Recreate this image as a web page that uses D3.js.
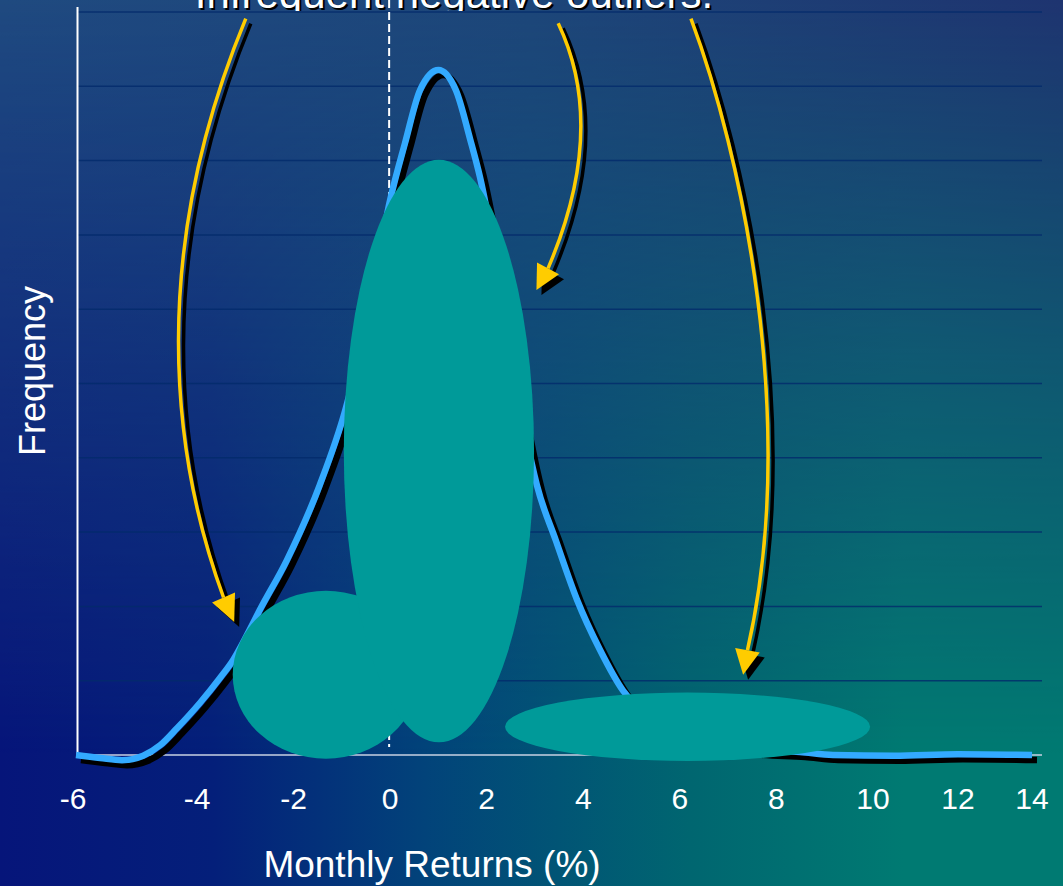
<!DOCTYPE html>
<html>
<head>
<meta charset="utf-8">
<script src="https://cdn.jsdelivr.net/npm/d3@7/dist/d3.min.js"></script>
<style>
  html, body { margin: 0; padding: 0; background: #0b2a7a; }
  svg { display: block; }
  text { font-family: "Liberation Sans", Arial, Helvetica, sans-serif; }
</style>
</head>
<body>
<svg id="chart" width="1063" height="886"></svg>
<script>
// Return distribution (monthly returns, %) against relative frequency
const xTickValues = [-6, -4, -2, 0, 2, 4, 6, 8, 10, 12, 14];
const returnPct = [-6, -5.6, -5.24, -4.89, -4.61, -4.33, -3.94, -3.52, -3.25, -2.96, -2.70, -2.14,
                   -1.46, -0.93, -0.46, 0.0, 0.31, 0.62, 1.0, 1.36, 1.66, 1.86, 2.23, 2.54, 2.81,
                   3.04, 3.43, 3.87, 4.35, 4.82, 5.38, 6.42, 7.45, 8.49, 9.17, 10.5, 12.0, 14];
const frequency = [0, -0.04, -0.07, -0.01, 0.13, 0.36, 0.70, 1.04, 1.28, 1.62, 1.95, 2.62,
                   3.63, 4.64, 5.92, 7.47, 8.24, 8.95, 9.22, 8.95, 8.28, 7.78, 6.53, 5.32, 4.31,
                   3.63, 2.89, 2.09, 1.41, 0.87, 0.52, 0.20, 0.08, 0.04, 0.0, -0.01, 0.01, 0.0];

// Highlight ovals (data units): left tail, core, right tail
const ovalCenterX = [-1.33, 1.01, 6.16];
const ovalCenterY = [1.08, 4.09, 0.38];
const ovalHalfX = [1.93, 1.97, 3.78];
const ovalHalfY = [1.13, 3.92, 0.46];

// Callout arrows (data units): start, two control points, end of shaft, arrow tip
const arrowStart = [[-2.99, 9.91], [3.48, 9.85], [6.23, 9.91]];
const arrowCtrl1 = [[-4.78, 6.80], [4.14, 8.95], [7.25, 8.14]];
const arrowCtrl2 = [[-4.45, 4.10], [4.14, 7.87], [8.49, 4.51]];
const arrowEnd   = [[-3.45, 2.12], [3.27, 6.55], [7.40, 1.41]];
const arrowTip   = [[-3.23, 1.79], [3.03, 6.26], [7.31, 1.08]];

const titleText = "Infrequent negative outliers.";
const xLabel = "Monthly Returns (%)";
const yLabel = "Frequency";

const W = 1063, H = 886;
const plotLeft = 77, plotRight = 1042, plotTop = 12, plotBottom = 755;

const svg = d3.select("#chart");
const defs = svg.append("defs");

// ---- background: bilinear blend of a top and a bottom horizontal gradient
const gBottom = defs.append("linearGradient").attr("id", "bgBottom").attr("x1", 0).attr("x2", 1).attr("y1", 0).attr("y2", 0);
[[0, "#06157a"], [0.2, "#041f7a"], [0.4, "#02437a"], [0.65, "#006670"], [0.85, "#007a72"], [1, "#007a72"]]
  .forEach(([o, c]) => gBottom.append("stop").attr("offset", o).attr("stop-color", c));
const gTop = defs.append("linearGradient").attr("id", "bgTop").attr("x1", 0).attr("x2", 1).attr("y1", 0).attr("y2", 0);
[[0, "#1f4a80"], [0.5, "#1d4679"], [1, "#1e3470"]]
  .forEach(([o, c]) => gTop.append("stop").attr("offset", o).attr("stop-color", c));
const gFade = defs.append("linearGradient").attr("id", "bgFade").attr("x1", 0).attr("x2", 0).attr("y1", 0).attr("y2", 1);
[[0, "#ffffff"], [0.45, "#737373"], [0.85, "#000000"], [1, "#000000"]]
  .forEach(([o, c]) => gFade.append("stop").attr("offset", o).attr("stop-color", c));
const mask = defs.append("mask").attr("id", "bgMask").attr("maskUnits", "userSpaceOnUse")
  .attr("x", 0).attr("y", 0).attr("width", W).attr("height", H);
mask.append("rect").attr("width", W).attr("height", H).attr("fill", "url(#bgFade)");

svg.append("rect").attr("width", W).attr("height", H).attr("fill", "url(#bgBottom)");
svg.append("rect").attr("width", W).attr("height", H).attr("fill", "url(#bgTop)").attr("mask", "url(#bgMask)");

// ---- scales
const x = d3.scaleLinear()
  .domain([-6, -4, 10, 12, 14])
  .range([76, 197, 873, 958, 1032]);
const y = d3.scaleLinear().domain([0, 10]).range([plotBottom, plotTop]);

// ---- title (only its lower edge sits inside the frame)
defs.append("clipPath").attr("id", "titleClip")
  .append("rect").attr("x", 0).attr("y", 0).attr("width", W).attr("height", 11);
const title = svg.append("g").attr("clip-path", "url(#titleClip)");
title.append("text").attr("x", 456).attr("y", 10).attr("text-anchor", "middle")
  .attr("font-size", 42).attr("fill", "#000").text(titleText);
title.append("text").attr("x", 454).attr("y", 8).attr("text-anchor", "middle")
  .attr("font-size", 42).attr("fill", "#fff").text(titleText);

// ---- gridlines
svg.append("g").selectAll("line")
  .data(y.ticks(10).filter(d => d > 0))
  .join("line")
  .attr("x1", plotLeft).attr("x2", plotRight)
  .attr("y1", d => y(d)).attr("y2", d => y(d))
  .attr("stroke", "#022a6c").attr("stroke-opacity", 0.8).attr("stroke-width", 1.5);

// ---- axes lines
svg.append("line").attr("x1", plotLeft).attr("x2", plotRight)
  .attr("y1", y(0)).attr("y2", y(0)).attr("stroke", "#c9d2e3").attr("stroke-width", 1.6);
svg.append("line").attr("x1", plotLeft + 0.5).attr("x2", plotLeft + 0.5)
  .attr("y1", 7).attr("y2", y(0)).attr("stroke", "#ffffff").attr("stroke-width", 2);

// zero-return reference line
svg.append("line").attr("x1", x(0) - 1).attr("x2", x(0) - 1)
  .attr("y1", 0).attr("y2", y(0) - 8)
  .attr("stroke", "#ffffff").attr("stroke-width", 2).attr("stroke-dasharray", "8,4");

// ---- x tick labels
svg.append("g").selectAll("text")
  .data(xTickValues)
  .join("text")
  .attr("x", d => x(d) - (d === -6 ? 3 : 0))
  .attr("y", 809)
  .attr("text-anchor", "middle")
  .attr("font-size", 30)
  .attr("fill", "#ffffff")
  .text(d => d3.format("d")(d).replace("−", "-"));

// axis titles
svg.append("text").attr("x", 432).attr("y", 877).attr("text-anchor", "middle")
  .attr("font-size", 37).attr("fill", "#ffffff").text(xLabel);
svg.append("text").attr("transform", "translate(45,371) rotate(-90)").attr("text-anchor", "middle")
  .attr("font-size", 36).attr("fill", "#ffffff").text(yLabel);

// ---- distribution curve with drop shadow
const pts = returnPct.map((d, i) => [d, frequency[i]]);
const line = d3.line().x(d => x(d[0])).y(d => y(d[1])).curve(d3.curveMonotoneX);
svg.append("path").attr("d", line(pts)).attr("transform", "translate(5,5)")
  .attr("fill", "none").attr("stroke", "#000").attr("stroke-width", 6.5).attr("stroke-linejoin", "round");
svg.append("path").attr("d", line(pts))
  .attr("fill", "none").attr("stroke", "#33aaff").attr("stroke-width", 6.5).attr("stroke-linejoin", "round");

// ---- highlight ovals
svg.append("g").selectAll("ellipse")
  .data(ovalCenterX.map((cx, i) => ({ cx, cy: ovalCenterY[i], hx: ovalHalfX[i], hy: ovalHalfY[i] })))
  .join("ellipse")
  .attr("cx", d => x(d.cx))
  .attr("cy", d => y(d.cy))
  .attr("rx", d => x(d.cx + d.hx) - x(d.cx))
  .attr("ry", d => y(0) - y(d.hy))
  .attr("fill", "#009a99");

// ---- callout arrows with drop shadow
function arrowShaft(i) {
  const p = [arrowStart[i], arrowCtrl1[i], arrowCtrl2[i], arrowEnd[i]].map(d => [x(d[0]), y(d[1])]);
  return `M${p[0]}C${p[1]} ${p[2]} ${p[3]}`;
}
function arrowHead(i) {
  const b = [x(arrowEnd[i][0]), y(arrowEnd[i][1])];
  const t = [x(arrowTip[i][0]), y(arrowTip[i][1])];
  const dx = t[0] - b[0], dy = t[1] - b[1];
  const len = Math.hypot(dx, dy);
  const nx = -dy / len * 12.5, ny = dx / len * 12.5;
  return `M${t}L${[b[0] + nx, b[1] + ny]}L${[b[0] - nx, b[1] - ny]}Z`;
}
const arrows = svg.append("g");
d3.range(arrowStart.length).forEach(i => {
  const g = arrows.append("g");
  g.append("path").attr("d", arrowShaft(i)).attr("transform", "translate(5,5)")
    .attr("fill", "none").attr("stroke", "#000").attr("stroke-width", 3.5);
  g.append("path").attr("d", arrowHead(i)).attr("transform", "translate(5,5)").attr("fill", "#000");
  g.append("path").attr("d", arrowShaft(i))
    .attr("fill", "none").attr("stroke", "#ffcc00").attr("stroke-width", 3.5);
  g.append("path").attr("d", arrowHead(i)).attr("fill", "#ffcc00");
});
</script>
</body>
</html>
